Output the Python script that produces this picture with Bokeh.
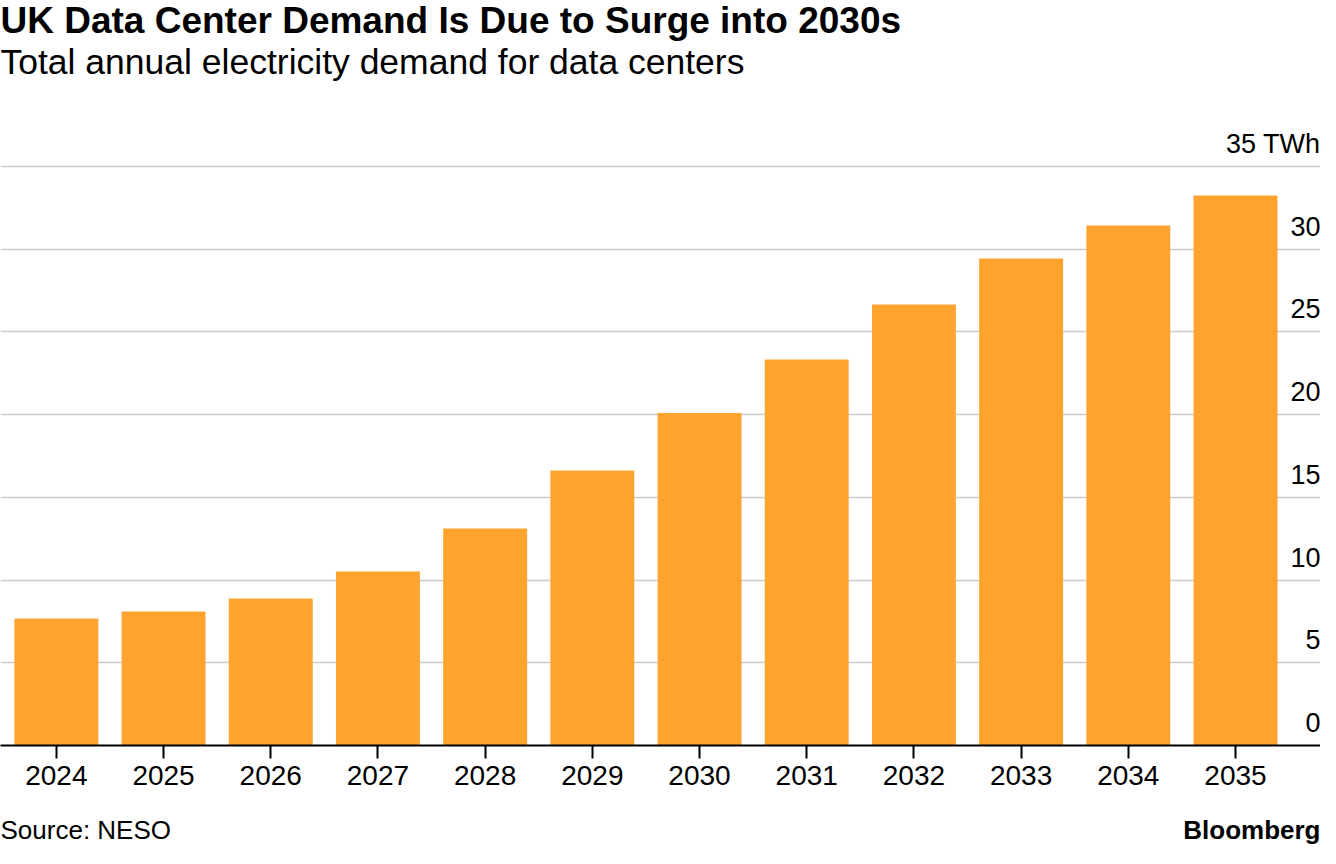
from bokeh.plotting import figure
from bokeh.layouts import column
from bokeh.models import Range1d, FixedTicker, Grid, Label, ColumnDataSource
from bokeh.core.properties import value
from bokeh.embed import file_html
from bokeh.resources import INLINE

years = [2024, 2025, 2026, 2027, 2028, 2029, 2030, 2031, 2032, 2033, 2034, 2035]
demand = [7.68, 8.1, 8.89, 10.52, 13.12, 16.63, 20.1, 23.34, 26.66, 29.44, 31.44, 33.25]
y_ticks = [0, 5, 10, 15, 20, 25, 30, 35]
y_tick_labels = ["0", "5", "10", "15", "20", "25", "30", "35 TWh"]
title_text = "UK Data Center Demand Is Due to Surge into 2030s"
subtitle_text = "Total annual electricity demand for data centers"
source_text = "Source: NESO"
brand_text = "Bloomberg"

FONT = "Liberation Sans"
BAR = "#FFA32F"
W = 1320
FRAME_H = 745
MAIN_H = 808
FOOT_H = 40

xr = Range1d(2023.479, 2035.793)
yr = Range1d(0, 45.04)

p = figure(width=W, height=MAIN_H, output_backend="svg", toolbar_location=None,
           x_range=xr, y_range=yr, y_axis_location=None,
           min_border=0, min_border_left=0, min_border_right=0, min_border_top=0,
           min_border_bottom=MAIN_H - FRAME_H)
p.outline_line_color = None
p.background_fill_color = "white"
p.border_fill_color = "white"
p.grid.visible = False

grid = Grid(dimension=1, ticker=FixedTicker(ticks=y_ticks[1:]),
            grid_line_color="#cccccc", grid_line_width=1.5)
p.add_layout(grid)

src = ColumnDataSource(dict(year=years, demand=demand))
p.vbar(x="year", top="demand", bottom=0, width=0.783, source=src,
       fill_color=BAR, line_color=None)

ax = p.xaxis[0]
ax.ticker = FixedTicker(ticks=years)
ax.major_label_overrides = {y: str(y) for y in years}
ax.minor_tick_line_color = None
ax.major_tick_in = 0
ax.major_tick_out = 13
ax.major_tick_line_width = 2
ax.major_tick_line_color = "#000000"
ax.axis_line_width = 2
ax.axis_line_color = "#000000"
ax.major_label_standoff = 7
ax.major_label_text_font = FONT
ax.major_label_text_font_size = "28px"
ax.major_label_text_color = "#000000"

ysrc = ColumnDataSource(dict(x=[xr.end] * len(y_ticks), y=y_ticks, t=y_tick_labels))
p.text(x="x", y="y", text="t", source=ysrc, text_align="right",
       text_baseline="middle", y_offset=-23,
       text_font=value(FONT), text_font_size=value("27px"), text_color="#000000")

p.add_layout(Label(x=0, y=FRAME_H - 20, x_units="screen", y_units="screen", text=title_text,
                   text_font=FONT, text_font_style="bold", text_font_size="37px",
                   text_baseline="middle", text_align="left", text_color="#000000"))
p.add_layout(Label(x=0, y=FRAME_H - 61, x_units="screen", y_units="screen", text=subtitle_text,
                   text_font=FONT, text_font_size="35.5px",
                   text_baseline="middle", text_align="left", text_color="#000000"))

foot = figure(width=W, height=FOOT_H, output_backend="svg", toolbar_location=None,
              x_range=Range1d(0, W), y_range=Range1d(0, FOOT_H),
              x_axis_location=None, y_axis_location=None, min_border=0,
              min_border_left=0, min_border_right=0, min_border_top=0, min_border_bottom=0)
foot.outline_line_color = None
foot.grid.visible = False
foot.background_fill_color = "white"
foot.border_fill_color = "white"
fsrc = ColumnDataSource(dict(x=[0], y=[19], t=[source_text]))
foot.text(x="x", y="y", text="t", source=fsrc, text_align="left", text_baseline="middle",
          text_font=value(FONT), text_font_size=value("26px"), text_color="#000000")
bsrc = ColumnDataSource(dict(x=[W], y=[19], t=[brand_text]))
foot.text(x="x", y="y", text="t", source=bsrc, text_align="right", text_baseline="middle",
          text_font=value(FONT), text_font_style="bold", text_font_size=value("26px"),
          text_color="#000000")

layout = column(p, foot, spacing=0)
open("out.html", "w").write(file_html(layout, INLINE))
